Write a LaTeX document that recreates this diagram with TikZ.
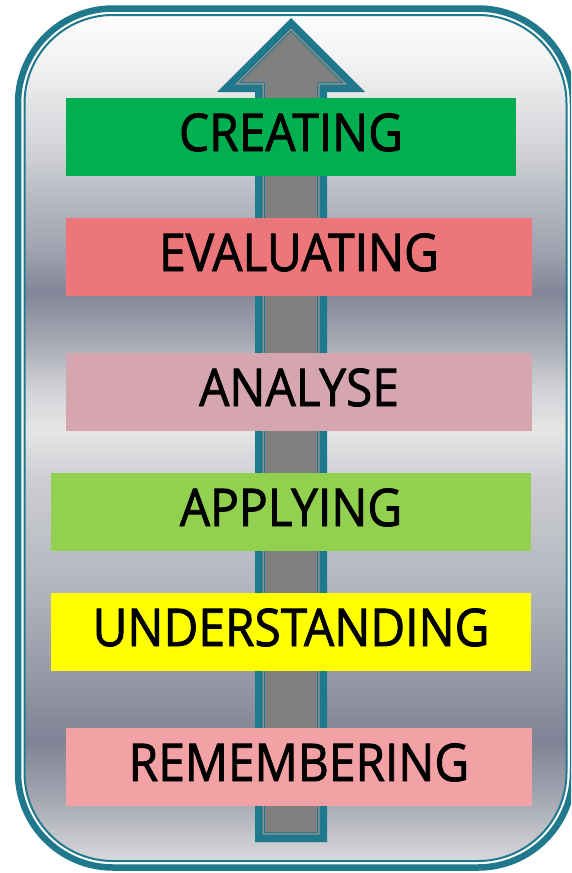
\documentclass[tikz,border=0pt]{standalone}
\usepackage{fontspec}
\newfontfamily\lblfont[FakeStretch=0.92,FakeBold=1.6]{Open Sans}
\definecolor{fteal}{RGB}{31,120,140}
\definecolor{agrey}{RGB}{128,128,128}
\definecolor{cgreen}{RGB}{0,176,80}
\definecolor{ceval}{RGB}{237,118,122}
\definecolor{cana}{RGB}{214,166,176}
\definecolor{capp}{RGB}{146,208,80}
\definecolor{cund}{RGB}{255,255,0}
\definecolor{crem}{RGB}{242,162,165}
% gradient colours (from bottom to top)
\definecolor{s01}{RGB}{218,218,221}
\definecolor{s02}{RGB}{200,201,206}
\definecolor{s03}{RGB}{165,168,178}
\definecolor{s04}{RGB}{126,131,149}
\definecolor{s05}{RGB}{145,149,163}
\definecolor{s06}{RGB}{178,181,190}
\definecolor{s07}{RGB}{205,206,211}
\definecolor{s08}{RGB}{230,230,230}
\definecolor{s09}{RGB}{210,211,215}
\definecolor{s10}{RGB}{165,168,178}
\definecolor{s11}{RGB}{130,134,152}
\definecolor{s12}{RGB}{160,163,175}
\definecolor{s13}{RGB}{182,185,194}
\definecolor{s14}{RGB}{205,206,212}
\definecolor{s15}{RGB}{225,225,228}
\definecolor{s16}{RGB}{243,243,244}
\definecolor{s17}{RGB}{252,252,252}
\pgfdeclareverticalshading{framefill}{100bp}{%
color(0bp)=(s01); color(25.32bp)=(s01); color(26.6bp)=(s02); color(28.93bp)=(s03);
color(32.42bp)=(s04); color(35.33bp)=(s05); color(41.15bp)=(s06); color(47.56bp)=(s07);
color(50.47bp)=(s08); color(52.79bp)=(s09); color(55.7bp)=(s10); color(58.5bp)=(s11);
color(60.94bp)=(s12); color(63.85bp)=(s13); color(66.18bp)=(s14); color(69.09bp)=(s15);
color(72bp)=(s16); color(74.62bp)=(s17); color(100bp)=(s17)}
\tikzset{
  arrowpath/.style={insert path={(291,{18+#1*1.4142}) -- ({365-#1*2.4142},{92-#1}) -- ({327-#1},{92-#1}) -- ({327-#1},{842-#1}) -- ({255+#1},{842-#1}) -- ({255+#1},{92-#1}) -- ({217+#1*2.4142},{92-#1}) -- cycle}},
  levelbox/.style={rectangle, inner sep=0pt, minimum height=78pt, text height=38pt, text depth=10pt,
    font=\lblfont\fontsize{52}{52}\selectfont, text=black},
}
\begin{document}
\begin{tikzpicture}[x=1pt,y=-1pt]
\useasboundingbox (0,0) rectangle (571,873);
\clip (0,0) rectangle (571,873);
% frame
\shade[shading=framefill, rounded corners=95] (18,8.5) rectangle (573,867.5);
\draw[white, line width=5, rounded corners=91] (22.5,13) rectangle (568.5,863);
\draw[fteal, line width=6.5, rounded corners=95] (18,8.5) rectangle (573,867.5);
\draw[fteal, line width=2, rounded corners=88.5] (24.5,15) rectangle (566.5,861);
% arrow
\fill[fteal, arrowpath=0];
\fill[agrey!85!white, arrowpath=7.5];
\fill[agrey, arrowpath=9];
\draw[fteal, line width=1, arrowpath=9.5];
\fill[agrey, arrowpath=10];
% levels
\node[levelbox, fill=cgreen, minimum width=450pt] (creating) at (291,137) {CREATING};
\node[levelbox, fill=ceval, minimum width=466pt] (evaluating) at (299,257) {EVALUATING};
\node[levelbox, fill=cana, minimum width=466pt] (analyse) at (299,392) {ANALYSE};
\node[levelbox, fill=capp, minimum width=480pt] (applying) at (291,512) {APPLYING};
\node[levelbox, fill=cund, minimum width=480pt] (understanding) at (291,632) {UNDERSTANDING};
\node[levelbox, fill=crem, minimum width=466pt] (remembering) at (299,767) {REMEMBERING};
\end{tikzpicture}
\end{document}
